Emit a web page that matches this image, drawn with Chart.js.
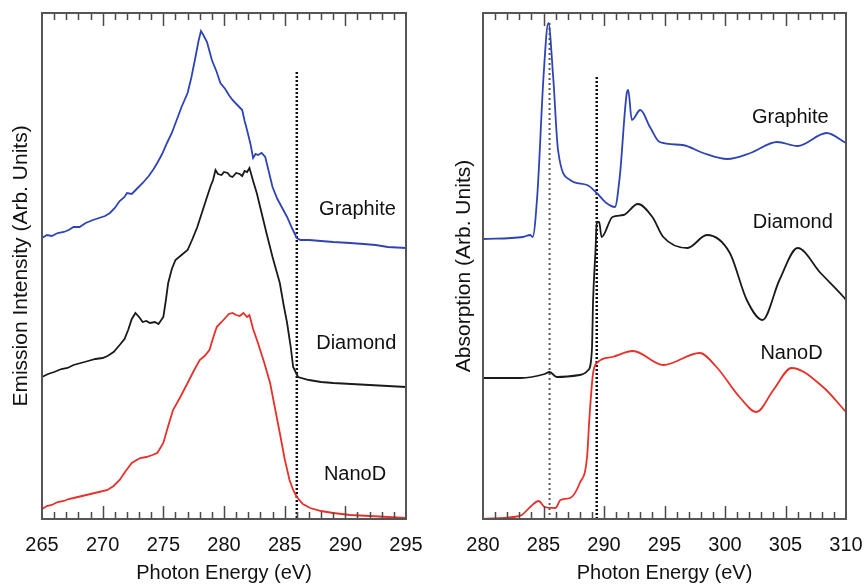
<!DOCTYPE html>
<html>
<head>
<meta charset="utf-8">
<script src="https://cdn.jsdelivr.net/npm/chart.js@4"></script>
<style>
  body { margin: 0; background: #fff; }
  #wrap { position: relative; width: 864px; height: 585px; }
  #left { position: absolute; left: 0; top: 0; }
  #right { position: absolute; left: 430px; top: 0; }
</style>
</head>
<body>
<div id="wrap">
  <canvas id="left" width="430" height="585"></canvas>
  <canvas id="right" width="434" height="585"></canvas>
</div>
<script>
// emission spectra (left), energy in eV, intensity in arbitrary units
var emGraphiteX = [265.0,265.4,265.8,266.3,266.8,267.2,267.6,268.1,268.6,269.2,269.7,270.2,270.6,271.0,271.4,271.8,272.0,272.4,272.8,273.3,273.8,274.2,274.5,274.9,275.3,275.7,276.1,276.5,277.0,277.3,277.6,277.9,278.1,278.3,278.6,278.8,279.0,279.4,279.7,280.1,280.4,280.7,281.1,281.5,281.7,281.9,282.2,282.4,282.6,282.8,283.1,283.4,283.7,284.0,284.4,284.8,285.2,285.6,286.0,286.3,287.0,288.0,289.0,290.4,291.5,292.5,293.5,295.0];
var emGraphiteY = [281,284,283,286,287,289,292,292,296,299,301,303,306,311,318,322,326,325,330,336,343,350,356,365,376,386,399,412,426,441,459,478,488,484,477,468,459,447,436,430,424,419,414,409,398,389,374,361,365,364,366,362,347,332,320,311,302,291,281,279,279,278,277,276,275,274,272,271];

var emDiamondX = [265.0,265.5,266.0,266.6,267.1,267.6,268.2,268.8,269.4,270.0,270.4,270.9,271.4,271.8,272.1,272.4,272.7,273.0,273.3,273.6,273.9,274.3,274.6,275.0,275.2,275.4,275.7,276.0,276.5,277.0,277.4,277.8,278.2,278.6,278.9,279.1,279.3,279.5,279.8,280.0,280.3,280.5,280.7,281.0,281.3,281.5,281.7,281.9,282.1,282.4,282.7,283.1,283.5,284.0,284.6,284.9,285.2,285.5,285.7,286.1,287.0,288.0,289.0,290.5,292.0,293.5,295.0];
var emDiamondY = [142,145,147,150,151,154,156,158,160,161,163,167,174,180,189,200,206,202,197,198,196,197,195,202,218,236,250,259,264,269,280,292,307,322,333,339,349,345,344,347,346,343,342,346,345,343,348,347,351,338,326,306,286,262,236,215,196,172,152,142,139,137,136,135,134,133,132];

var emNanoX = [265.0,265.4,265.8,266.3,266.8,267.2,267.6,268.3,269.0,269.7,270.4,270.9,271.4,271.9,272.4,272.8,273.1,273.6,274.1,274.5,275.0,275.4,275.8,276.4,277.0,277.5,278.0,278.4,278.8,279.1,279.4,279.8,280.1,280.4,280.7,281.0,281.3,281.6,281.9,282.1,282.4,282.8,283.3,283.8,284.2,284.6,285.0,285.4,285.7,286.0,286.5,287.1,288.0,289.0,290.4,292.0,293.5,295.0];
var emNanoY = [10,13,14,17,18,20,21,23,25,27,29,33,39,48,56,59,61,62,64,66,76,93,109,122,136,148,159,163,169,181,192,197,201,205,206,204,203,206,202,204,190,176,157,136,111,86,60,39,29,22,15,11,8,6,4,3,2,1];

// absorption spectra (right)
var abGraphiteX = [280.0,283.3,283.9,284.1,284.5,285.0,285.4,285.8,286.2,287.2,288.6,289.4,290.2,290.9,291.3,291.9,292.0,292.3,293.0,293.8,294.6,296.5,298.2,300.2,302.1,304.3,306.0,308.4,310.0];
var abGraphiteY = [280,282,284,282,326,442,496,442,369,339,334,326,316,312,342,427,429,399,409,392,377,374,366,360,366,377,373,386,376];

var abDiamondX = [280.0,283.1,285.1,285.5,286.1,288.0,288.7,289.0,289.1,289.3,289.4,289.6,289.8,290.7,291.6,292.8,294.0,294.9,296.9,298.5,300.4,301.8,303.1,304.5,306.0,307.9,309.8,310.0];
var abDiamondY = [141,141,145,147,142,144,149,169,219,269,296,297,282,302,304,315,302,282,271,284,266,219,199,239,271,246,222,219];

var abNanoX = [280.0,282.5,283.2,283.9,284.6,285.1,286.0,286.4,287.2,288.0,288.6,288.8,289.1,289.5,290.7,292.4,294.9,297.9,299.3,301.2,302.6,304.0,305.5,308.1,310.0];
var abNanoY = [0,2,4,12,18,12,11,19,21,36,62,102,146,157,162,168,154,166,152,122,107,129,151,132,107];

// reference energies (dotted lines)
var emEdge = 286.0;
var abPiEdge = 285.5;
var abSigmaEdge = 289.4;

var sampleNames = ['Graphite', 'Diamond', 'NanoD'];

var BLUE = '#2f44b4', BLACK = '#1a1a1a', RED = '#e8302a';
var FONT = '"Liberation Sans", Arial, Helvetica, sans-serif';

function pts(xs, ys) {
    let out = [];
    for (let i = 0; i < xs.length; i++) out.push({x: xs[i], y: ys[i]});
    return out;
}

function spec(data, color, smooth) {
    let ds = {data: data, borderColor: color, borderWidth: 1.8, pointRadius: 0, fill: false};
    if (smooth) {
        ds.cubicInterpolationMode = 'monotone';
    }
    return ds;
}

function dotted(x, top, color, width, dash) {
    return {data: [{x: x, y: top}, {x: x, y: 0}], borderColor: color, borderWidth: width,
        borderDash: dash, pointRadius: 0, fill: false};
}

// frame box, inward ticks on top and bottom edges, sample names
const frameTicks = {
    id: 'frameTicks',
    afterDatasetsDraw(chart) {
        const {ctx, chartArea: a, scales: {x}} = chart;
        ctx.save();
        ctx.strokeStyle = '#4a4a4a';
        ctx.lineWidth = 1.5;
        for (let v = Math.ceil(x.min) + 1; v < x.max; v++) {
            const px = Math.round(x.getPixelForValue(v)) + 0.5;
            const len = v % 5 === 0 ? 13 : 7;
            ctx.beginPath();
            ctx.moveTo(px, a.top); ctx.lineTo(px, a.top + len);
            ctx.moveTo(px, a.bottom); ctx.lineTo(px, a.bottom - len);
            ctx.stroke();
        }
        ctx.lineWidth = 2;
        ctx.strokeStyle = '#555';
        ctx.strokeRect(a.left, a.top, a.right - a.left, a.bottom - a.top);
        ctx.restore();

        const lab = chart.options.plugins.sampleLabels;
        ctx.save();
        ctx.fillStyle = '#111';
        ctx.font = '20px ' + FONT;
        ctx.textAlign = 'center';
        ctx.textBaseline = 'middle';
        for (let i = 0; i < lab.names.length; i++) {
            ctx.fillText(lab.names[i], x.getPixelForValue(lab.x[i]), chart.scales.y.getPixelForValue(lab.y[i]));
        }
        ctx.restore();
    }
};

function panel(id, datasets, xmin, xmax, ytitle, leftW, rightPad, titlePad, lab) {
    return new Chart(document.getElementById(id), {
        type: 'line',
        data: {datasets: datasets},
        plugins: [frameTicks],
        options: {
            responsive: false,
            animation: false,
            layout: {padding: {top: 13, right: rightPad, left: 0, bottom: 0}},
            scales: {
                x: {
                    type: 'linear', min: xmin, max: xmax,
                    grid: {display: false}, border: {display: false},
                    ticks: {stepSize: 5, color: '#111', padding: 6, maxRotation: 0,
                        font: {family: FONT, size: 20}},
                    title: {display: true, text: 'Photon Energy (eV)', color: '#111',
                        padding: 0, font: {family: FONT, size: 20}},
                    afterFit: function (s) { s.height = 66; s.paddingLeft = 0; s.paddingRight = 0; }
                },
                y: {
                    min: 0, max: 506,
                    grid: {display: false}, border: {display: false},
                    ticks: {display: false},
                    title: {display: true, text: ytitle, color: '#111',
                        padding: {top: titlePad, bottom: 0}, font: {family: FONT, size: 21}},
                    afterFit: function (s) { s.width = leftW; s.paddingTop = 0; s.paddingBottom = 0; }
                }
            },
            plugins: {
                legend: {display: false},
                tooltip: {enabled: false},
                sampleLabels: lab
            }
        }
    });
}

panel('left', [
    spec(pts(emGraphiteX, emGraphiteY), BLUE, false),
    spec(pts(emDiamondX, emDiamondY), BLACK, false),
    spec(pts(emNanoX, emNanoY), RED, false),
    dotted(emEdge, 447, '#111', 2.5, [2, 2])
], 265, 295, 'Emission Intensity (Arb. Units)', 42, 24, 9,
   {names: sampleNames, x: [291.0, 290.9, 290.8], y: [310, 176, 45]});

panel('right', [
    spec(pts(abGraphiteX, abGraphiteY), BLUE, true),
    spec(pts(abDiamondX, abDiamondY), BLACK, true),
    spec(pts(abNanoX, abNanoY), RED, true),
    dotted(abPiEdge, 496, '#555', 2, [2, 3]),
    dotted(abSigmaEdge, 442, '#111', 2.5, [2, 2])
], 280, 310, 'Absorption (Arb. Units)', 53, 18, 22,
   {names: sampleNames, x: [305.4, 305.6, 305.5], y: [402, 297, 166]});
</script>
</body>
</html>
